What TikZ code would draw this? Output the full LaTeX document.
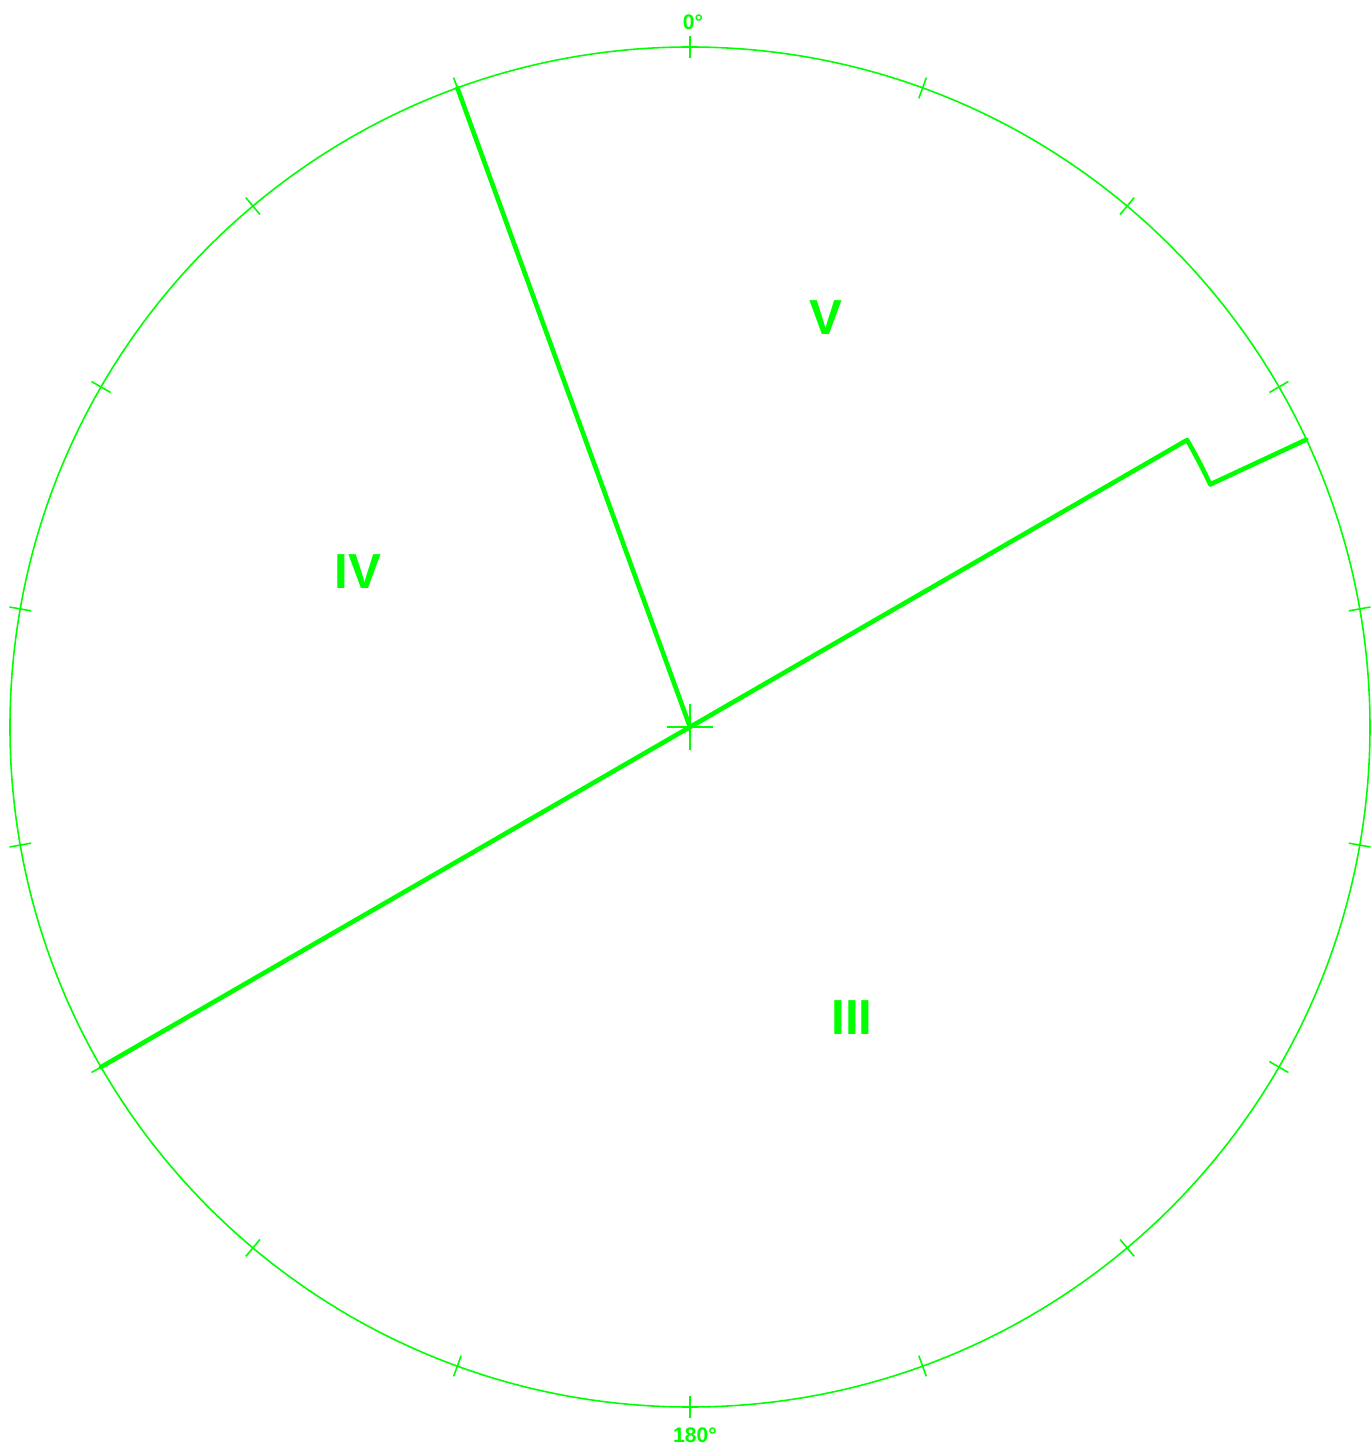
\documentclass[tikz,border=0pt]{standalone}
\usepackage{fontspec}
\setmainfont{Liberation Sans}
\usetikzlibrary{calc}
\definecolor{rimgreen}{HTML}{00FF00}
\tikzset{
  rim/.style={draw=rimgreen,line width=0.45pt},
  rimtick/.style={draw=rimgreen,line width=0.45pt},
  cut/.style={draw=rimgreen,line width=1.3pt,line join=round,line cap=round},
  sector/.style={text=rimgreen,font=\bfseries\fontsize{14}{16}\selectfont,inner sep=0pt},
  deg/.style={text=rimgreen,font=\bfseries\fontsize{6}{7}\selectfont,inner sep=0pt},
}
\begin{document}
\begin{tikzpicture}
  \useasboundingbox (-6.90,-7.19) rectangle (6.82,7.27);
  \coordinate (ctr) at (0,0);

  % outer circle with a tick every 20 degrees of bearing
  \draw[rim] (ctr) circle[radius=6.8];
  \foreach \a in {10,30,...,350}
    \draw[rimtick] (\a:6.69) -- (\a:6.91);
  \draw[rimtick] ($(ctr)+(-0.23,0)$) -- ($(ctr)+(0.23,0)$)
                 ($(ctr)+(0,-0.23)$) -- ($(ctr)+(0,0.23)$);

  \node[deg] (n0) at (0.03,7.05) {0°};
  \node[deg] (n180) at (0.05,-7.08) {180°};

  % sector boundaries
  \coordinate (top) at (110:6.8);
  \coordinate (low) at (210:6.8);
  \coordinate (kneeA) at (30:5.74);
  \coordinate (kneeB) at (25:5.74);
  \coordinate (edge) at (25:6.8);
  \draw[cut] (ctr) -- (top);
  \draw[cut] (low) -- (kneeA) arc[start angle=30,end angle=25,radius=5.74] -- (edge);

  \node[sector] (sV) at (1.36,4.09) {V};
  \node[sector] (sIV) at (-3.32,1.55) {IV};
  \node[sector] (sIII) at (1.62,-2.91) {III};
\end{tikzpicture}
\end{document}
